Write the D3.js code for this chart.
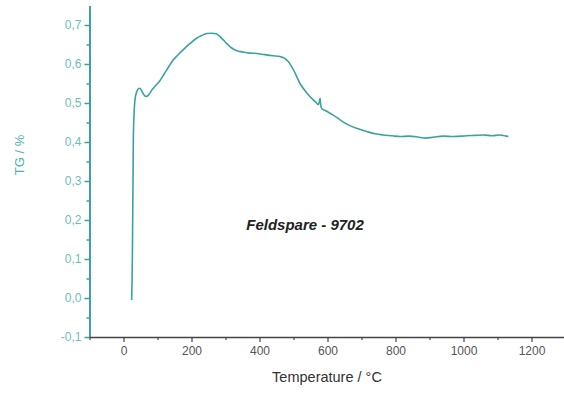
<!DOCTYPE html>
<html><head><meta charset="utf-8">
<script src="https://cdn.jsdelivr.net/npm/d3@7"></script>
<style>body{margin:0;background:#fff}svg{display:block}</style>
</head><body>
<svg id="c" width="564" height="394"></svg>
<script>
const temps = [24,26,27,28,29,31,34,39,44,48,53,58,63,68,75,85,95,107,120,133,146,160,176,195,215,230,245,260,274,288,303,318,333,350,370,392,415,440,460,475,485,500,519,538,558,568,573,576,578,580,583,595,617,640,661,690,715,740,764,790,813,840,865,887,910,941,970,1009,1035,1058,1085,1105,1127,1132];
const tg    = [-0.005,0.1,0.2,0.3,0.41,0.47,0.51,0.529,0.537,0.538,0.532,0.524,0.518,0.517,0.522,0.535,0.545,0.557,0.575,0.593,0.61,0.623,0.637,0.652,0.666,0.673,0.678,0.679,0.677,0.667,0.653,0.641,0.634,0.631,0.628,0.627,0.624,0.621,0.619,0.614,0.606,0.585,0.55,0.527,0.508,0.5,0.496,0.503,0.512,0.496,0.486,0.48,0.469,0.455,0.444,0.434,0.427,0.421,0.418,0.416,0.414,0.415,0.413,0.41,0.412,0.415,0.414,0.416,0.417,0.418,0.416,0.418,0.415,0.414];
const xTicks = [0,200,400,600,800,1000,1200];
const yTicks = [-0.1,0,0.1,0.2,0.3,0.4,0.5,0.6,0.7];
const title = "Feldspare - 9702";
const xLabel = "Temperature / °C";
const yLabel = "TG / %";

const svg = d3.select("#c");
const x = d3.scaleLinear().domain([-100,1300]).range([89.5,565.5]);
const y = d3.scaleLinear().domain([-0.1,0.75]).range([337,5.5]);
const teal = "#3aa39e";
const fmt = d => d3.format(".1f")(d).replace(".",",").replace("−","-");

// y axis
const gy = svg.append("g").attr("transform","translate(89.5,0)");
gy.call(d3.axisLeft(y).tickValues(yTicks).tickFormat(fmt).tickSize(5).tickSizeOuter(0));
gy.select(".domain").attr("stroke",teal).attr("stroke-width",2);
gy.selectAll(".tick line").attr("stroke",teal).attr("stroke-width",1.5);
gy.selectAll(".tick text").attr("fill","#6fbdb8").attr("font-family","Liberation Sans, Arial, sans-serif").attr("font-size",12).attr("x",-8);
const gym = svg.append("g").attr("transform","translate(89.5,0)");
gym.call(d3.axisLeft(y).tickValues(d3.range(-0.05,0.75,0.1)).tickFormat("").tickSize(3).tickSizeOuter(0));
gym.select(".domain").remove();
gym.selectAll(".tick line").attr("stroke",teal).attr("stroke-width",1.5);

// x axis
const gx = svg.append("g").attr("transform","translate(0,337)");
gx.call(d3.axisBottom(x).tickValues(xTicks).tickFormat(d3.format("d")).tickSize(5).tickSizeOuter(0));
gx.select(".domain").attr("stroke","#444").attr("stroke-width",1.5);
gx.selectAll(".tick line").attr("stroke","#444").attr("stroke-width",1.2);
gx.selectAll(".tick text").attr("fill","#555").attr("font-family","Liberation Sans, Arial, sans-serif").attr("font-size",12).attr("dy","0.85em");
const gxm = svg.append("g").attr("transform","translate(0,337)");
gxm.call(d3.axisBottom(x).tickValues([-100,100,300,500,700,900,1100,1300]).tickFormat("").tickSize(3).tickSizeOuter(0));
gxm.select(".domain").remove();
gxm.selectAll(".tick line").attr("stroke","#444").attr("stroke-width",1.2);

// curve
const data = temps.map((t,i)=>[t,tg[i]]);
svg.append("path").datum(data)
  .attr("fill","none").attr("stroke",teal).attr("stroke-width",1.6).attr("stroke-linejoin","round")
  .attr("d", d3.line().x(d=>x(d[0])).y(d=>y(d[1])).curve(d3.curveMonotoneX));

// labels
svg.append("text").attr("x",305).attr("y",230).attr("text-anchor","middle")
  .attr("font-family","Liberation Sans, Arial, sans-serif").attr("font-size",15).attr("font-weight","bold").attr("font-style","italic").attr("fill","#222").text(title);
svg.append("text").attr("x",327).attr("y",382).attr("text-anchor","middle")
  .attr("font-family","Liberation Sans, Arial, sans-serif").attr("font-size",14.5).attr("fill","#333").text(xLabel);
svg.append("text").attr("transform","translate(24,155) rotate(-90)").attr("text-anchor","middle")
  .attr("font-family","Liberation Sans, Arial, sans-serif").attr("font-size",13).attr("fill","#4fb0ab").text(yLabel);
</script>
</body></html>
